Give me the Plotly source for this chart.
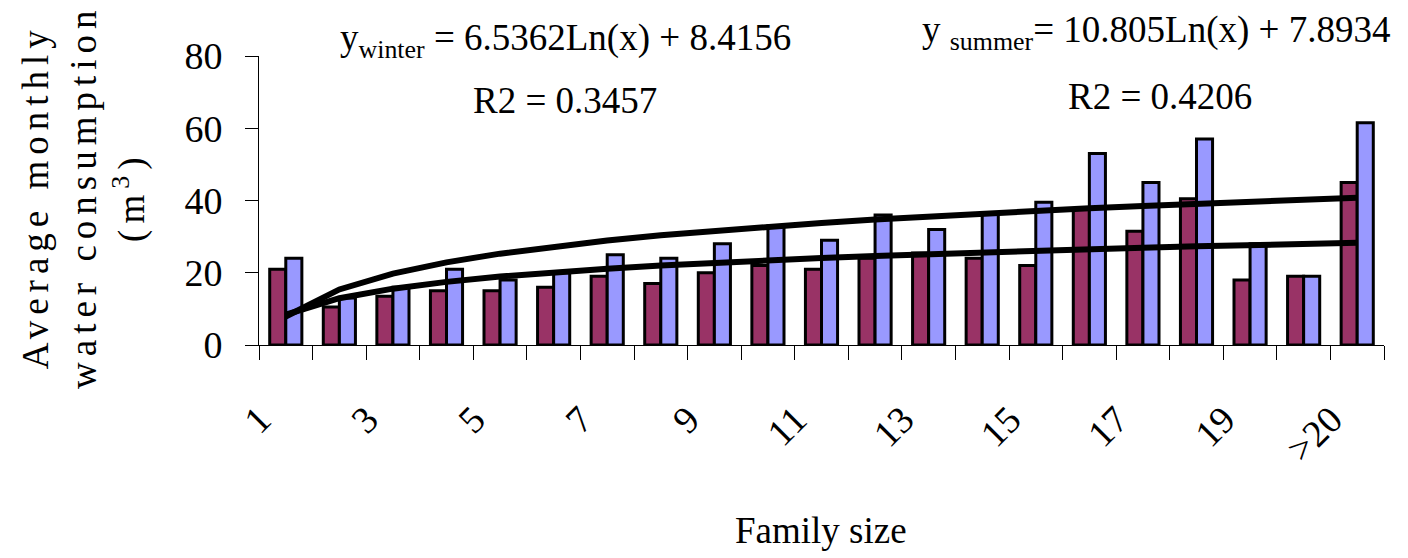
import numpy as np
import plotly.graph_objects as go

# ---- data ----
categories = ["1", "2", "3", "4", "5", "6", "7", "8", "9", "10", "11", "12", "13",
              "14", "15", "16", "17", "18", "19", "20", ">20"]
winter = [21, 10.5, 13.5, 15, 15, 16, 19, 17, 20, 22, 21, 24, 25.5, 24, 22, 37.5, 31.5, 40.5, 18, 19, 45]
summer = [24, 13, 16, 21, 18, 20, 25, 24, 28, 33, 29, 36, 32, 36.5, 39.5, 53, 45, 57, 28, 19, 61.5]
# logarithmic trend lines shown on the chart: y = a*Ln(x) + b
winter_trend = {"a": 6.5362, "b": 8.4156, "r2": 0.3457}
summer_trend = {"a": 10.805, "b": 7.8934, "r2": 0.4206}
tick_labels_shown = ["1", "3", "5", "7", "9", "11", "13", "15", "17", "19", ">20"]

FONT = "Liberation Serif, Times New Roman, serif"
x_pos = list(range(1, len(categories) + 1))
tick_pos = [x_pos[categories.index(t)] for t in tick_labels_shown]

xs = np.array(x_pos, dtype=float)
w_tr = winter_trend["a"] * np.log(xs) + winter_trend["b"]
s_tr = summer_trend["a"] * np.log(xs) + summer_trend["b"]

fig = go.Figure()
fig.add_trace(go.Bar(x=x_pos, y=winter, name="winter",
                     marker=dict(color="#993366", line=dict(color="black", width=3))))
fig.add_trace(go.Bar(x=x_pos, y=summer, name="summer",
                     marker=dict(color="#9999FF", line=dict(color="black", width=3))))
fig.add_trace(go.Scatter(x=x_pos, y=w_tr, mode="lines", line=dict(color="black", width=6),
                         showlegend=False))
fig.add_trace(go.Scatter(x=x_pos, y=s_tr, mode="lines", line=dict(color="black", width=6),
                         showlegend=False))

L, R, T, B = 259, 24, 56, 213
W, H = 1408, 558
pw, ph = W - L - R, H - T - B


def px(x):
    return (x - L) / pw


def py(y):
    return (H - B - y) / ph


fig.update_layout(
    width=W, height=H,
    margin=dict(l=L, r=R, t=T, b=B, autoexpand=False),
    paper_bgcolor="white", plot_bgcolor="white",
    barmode="group", bargap=0.4, bargroupgap=0,
    showlegend=False,
    font=dict(family=FONT, size=38, color="black"),
)
fig.update_xaxes(
    range=[0.5, len(categories) + 0.5], automargin=False,
    tickmode="array", tickvals=tick_pos, ticktext=tick_labels_shown,
    tickangle=-45, ticks="", showgrid=False, zeroline=False,
    showline=True, linecolor="black", linewidth=1,
    tickfont=dict(family=FONT, size=38, color="black"),
    ticklabelstandoff=36, ticklabelshift=-26,
    minor=dict(tickmode="linear", tick0=0.5, dtick=1, ticks="outside",
               ticklen=14, tickcolor="black", tickwidth=1, showgrid=False),
)
fig.update_yaxes(
    range=[0, 80], dtick=20, ticks="outside", ticklen=13, tickcolor="black", automargin=False,
    showgrid=False, zeroline=False, showline=True, linecolor="black", linewidth=1,
    tickfont=dict(family=FONT, size=38, color="black"), ticklabelstandoff=15,
)

ann = dict(xref="paper", yref="paper", showarrow=False,
           font=dict(family=FONT, size=37, color="black"))
fig.add_annotation(x=px(338), y=py(40), xanchor="left", yanchor="middle",
                   text="y<sub>winter</sub> = %.4fLn(x) + %.4f" % (winter_trend["a"], winter_trend["b"]), **ann)
fig.add_annotation(x=px(565), y=py(100), xanchor="center", yanchor="middle",
                   text="R2 = %.4f" % winter_trend["r2"], **ann)
fig.add_annotation(x=px(920), y=py(32), xanchor="left", yanchor="middle",
                   text="y <sub>summer</sub>= %.3fLn(x) + %.4f" % (summer_trend["a"], summer_trend["b"]), **ann)
fig.add_annotation(x=px(1160), y=py(97), xanchor="center", yanchor="middle",
                   text="R2 = %.4f" % summer_trend["r2"], **ann)
fig.add_annotation(x=px(821), y=py(530), xanchor="center", yanchor="middle",
                   text="Family size", **ann)
fig.add_annotation(x=px(84), y=py(197), xanchor="center", yanchor="middle", textangle=-90,
                   text="Average monthly<br>water consumption<br>(m<sup>3</sup>)",
                   xref="paper", yref="paper", showarrow=False,
                   font=dict(family=FONT, size=37, color="black"))

post = """
document.body.style.margin = '0';
document.querySelectorAll('.annotation-text').forEach(function(t){
  if (t.textContent.indexOf('Average') === 0) { t.style.letterSpacing = '6px'; }
});
"""
fig.write_html("out.html", post_script=post, config={"displayModeBar": False})
